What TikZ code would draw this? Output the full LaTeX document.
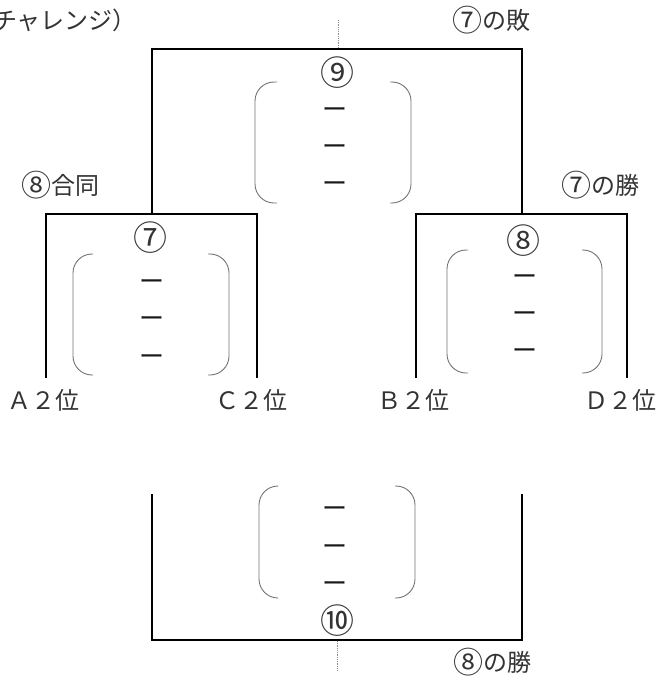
\documentclass[tikz,border=0pt]{standalone}
\usepackage{fontspec}
\newfontfamily\jp{Noto Sans CJK JP}
\newcommand\cn[1]{{\fontsize{30}{30}\selectfont\raisebox{-1.5pt}{#1}}}
\begin{document}
\begin{tikzpicture}[x=1pt,y=-1pt,
  lbl/.style={inner sep=0pt, font=\jp\fontsize{24}{26}\selectfont, text=black!80},
  num/.style={inner sep=0pt, font=\jp\fontsize{34}{36}\selectfont, text=black!80},
  dashmark/.style={inner sep=0pt, font=\jp\fontsize{25}{26}\selectfont, text=black!90},
  boxline/.style={line width=1.2pt, black},
  paren/.style={line width=0.9pt, black!55, rounded corners=19pt},
  guide/.style={line width=0.7pt, black!45, dash pattern=on 1pt off 0.8pt}]
\useasboundingbox (0,0) rectangle (657,677);
% bracket pair macro: left outer, left tip, right tip, right outer, top, bottom
\newcommand\bracketpair[6]{%
  \draw[paren] (#2,#5) -- (#1,#5) -- (#1,#6) -- (#2,#6);
  \draw[paren] (#3,#5) -- (#4,#5) -- (#4,#6) -- (#3,#6);}
% corner coordinates
\coordinate (nL) at (152,214); \coordinate (nLt) at (152,49);
\coordinate (nRt) at (522,49); \coordinate (nR) at (522,214);
\coordinate (sAb) at (46,378); \coordinate (sAt) at (46,214);
\coordinate (sCt) at (257,214); \coordinate (sCb) at (257,378);
\coordinate (eBb) at (416,378); \coordinate (eBt) at (416,214);
\coordinate (eDt) at (627,214); \coordinate (eDb) at (627,378);
\coordinate (tLt) at (152,494); \coordinate (tLb) at (152,640);
\coordinate (tRb) at (522,640); \coordinate (tRt) at (522,494);
\coordinate (g1a) at (338,20); \coordinate (g1b) at (338,48);
\coordinate (g2a) at (337,641); \coordinate (g2b) at (337,670);
% lines
\draw[boxline] (nL) -- (nLt) -- (nRt) -- (nR);
\draw[boxline] (sAb) -- (sAt) -- (sCt) -- (sCb);
\draw[boxline] (eBb) -- (eBt) -- (eDt) -- (eDb);
\draw[boxline] (tLt) -- (tLb) -- (tRb) -- (tRt);
\draw[guide] (g1a) -- (g1b);
\draw[guide] (g2a) -- (g2b);
% brackets
\bracketpair{255}{277}{390}{411}{82}{203}
\bracketpair{73}{93}{208}{229}{254}{375}
\bracketpair{447}{468}{582}{602}{250}{373}
\bracketpair{259}{278}{395}{415}{486}{598}
% numbers
\node[num] (m9) at (337,73) {⑨};
\node[num] (m7) at (150,238) {⑦};
\node[num] (m8) at (523,241) {⑧};
\node[num] (m10) at (337,621) {⑩};
% dashes
\foreach \n/\x/\y in {a1/335/110,a2/335/147,a3/335/184,
                      b1/152/282,b2/152/319,b3/152/357,
                      c1/525/277,c2/525/314,c3/525/351,
                      d1/335/509,d2/335/547,d3/335/584}
  \node[dashmark] (dash\n) at (\x,\y+3) {ー};
% labels
\node[lbl, anchor=east] (chal) at (137,20) {チャレンジ）};
\node[lbl] (lose7) at (491,20) {\cn{⑦}の敗};
\node[lbl] (joint8) at (60,185) {\cn{⑧}合同};
\node[lbl] (win7) at (600,185) {\cn{⑦}の勝};
\node[lbl] (a2) at (43,400) {Ａ２位};
\node[lbl] (c2) at (251,400) {Ｃ２位};
\node[lbl] (b2) at (413,400) {Ｂ２位};
\node[lbl] (d2) at (620,400) {Ｄ２位};
\node[lbl] (win8) at (492,662) {\cn{⑧}の勝};
\end{tikzpicture}
\end{document}
